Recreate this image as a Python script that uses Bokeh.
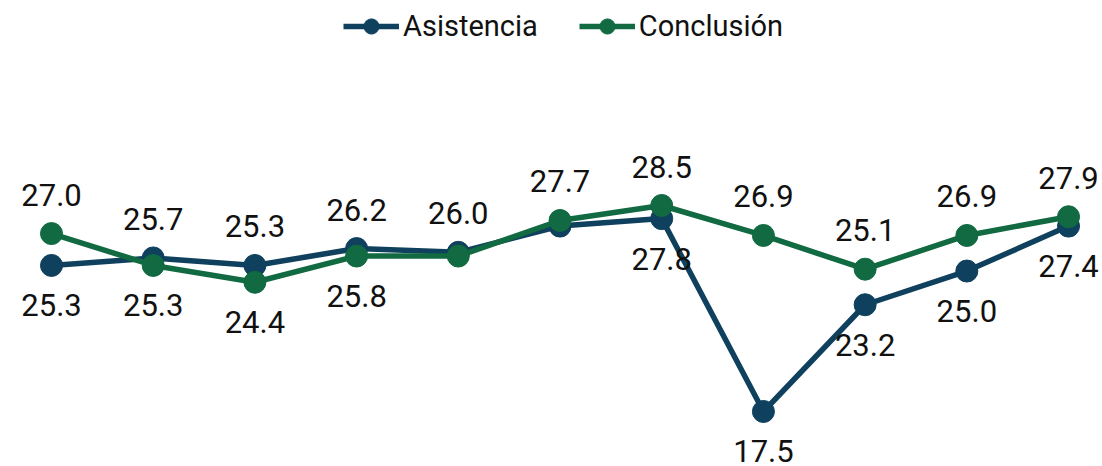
from bokeh.plotting import figure
from bokeh.models import ColumnDataSource, Legend, LegendItem, Range1d
from bokeh.core.properties import value
from bokeh.embed import file_html
from bokeh.resources import INLINE

categories = list(range(11))
asistencia = [25.3, 25.7, 25.3, 26.2, 26.0, 27.4, 27.8, 17.5, 23.2, 25.0, 27.4]
conclusion = [27.0, 25.3, 24.4, 25.8, 25.8, 27.7, 28.5, 26.9, 25.1, 26.9, 27.9]
series_names = ["Asistencia", "Conclusión"]

BLUE = "#0f405d"
GREEN = "#116a41"
FONT = "Roboto"

p = figure(width=1102, height=466, output_backend="svg", toolbar_location=None,
           x_range=Range1d(-0.5015, 10.334), y_range=Range1d(14.563, 39.447),
           min_border=0)
p.axis.visible = False
p.grid.visible = False
p.outline_line_color = None
p.background_fill_color = "white"
p.border_fill_color = "white"

def label_sets(this, other):
    above_x, above_y, above_t = [], [], []
    below_x, below_y, below_t = [], [], []
    for i, (a, b) in enumerate(zip(this, other)):
        if a >= b:
            above_x.append(i); above_y.append(a); above_t.append(f"{a:.1f}")
        elif abs(a - b) >= 0.35:
            below_x.append(i); below_y.append(a); below_t.append(f"{a:.1f}")
    return (above_x, above_y, above_t), (below_x, below_y, below_t)

renderers = []
for vals, color in [(asistencia, BLUE), (conclusion, GREEN)]:
    src = ColumnDataSource(dict(x=categories, y=vals))
    l = p.line("x", "y", source=src, line_color=color, line_width=5.5)
    s = p.scatter("x", "y", source=src, size=22, fill_color=color, line_color=color)
    renderers.append([l, s])

for vals, other in [(asistencia, conclusion), (conclusion, asistencia)]:
    (ax, ay, at), (bx, by, bt) = label_sets(vals, other)
    p.text(x=ax, y=ay, text=at, text_font=value(FONT), text_font_size="31px",
           text_color="#111111", text_align="center", text_baseline="alphabetic",
           y_offset=-39)
    p.text(x=bx, y=by, text=bt, text_font=value(FONT), text_font_size="31px",
           text_color="#111111", text_align="center", text_baseline="alphabetic",
           y_offset=40)

legend = Legend(items=[LegendItem(label=series_names[0], renderers=renderers[0]),
                       LegendItem(label=series_names[1], renderers=renderers[1])],
                orientation="horizontal", location=(343, 421),
                label_text_font=FONT, label_text_font_size="29px",
                label_text_color="#111111", glyph_width=56, glyph_height=38,
                label_height=38, label_standoff=4, spacing=41, padding=0, margin=0,
                border_line_alpha=0, background_fill_alpha=0)
p.add_layout(legend)

open("out.html", "w").write(file_html(p, INLINE))
